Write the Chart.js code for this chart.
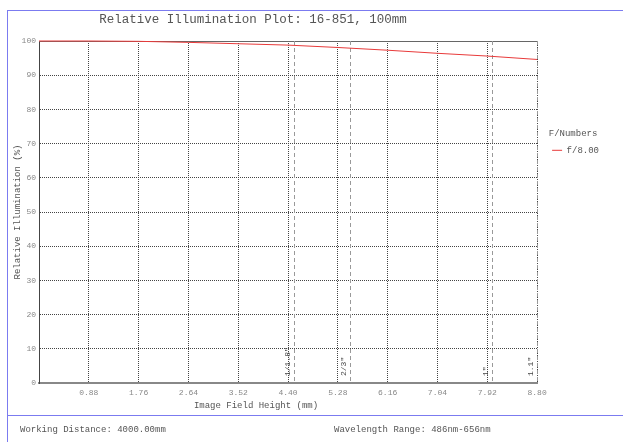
<!DOCTYPE html>
<html>
<head>
<meta charset="utf-8">
<script src="https://cdn.jsdelivr.net/npm/chart.js@4"></script>
<style>
  body { margin: 0; background: #fff; }
  #wrap { position: relative; width: 623px; height: 442px; overflow: hidden; font-family: "Liberation Mono", monospace; color: #555; }
  #frame { position: absolute; left: 7px; top: 10px; width: 640px; height: 440px; border-left: 1px solid #7b7bf0; border-top: 1px solid #7b7bf0; }
  #sep { position: absolute; left: 7px; top: 415px; width: 620px; height: 0; border-top: 1px solid #7b7bf0; }
  .txt { position: absolute; white-space: pre; }
  #title { left: 0; width: 506px; top: 13px; text-align: center; font-size: 12.5px; }
  #xtitle { left: 0; width: 512px; top: 401px; text-align: center; font-size: 9px; }
  #wd { left: 20px; top: 425px; font-size: 9px; }
  #wl { left: 334px; top: 425px; font-size: 9px; }
  canvas { position: absolute; left: 0; top: 0; }
</style>
</head>
<body>
<div id="wrap">
  <canvas id="chart" width="623" height="442"></canvas>
  <div id="frame"></div>
  <div id="sep"></div>
  <div class="txt" id="title">Relative Illumination Plot: 16-851, 100mm</div>
  <div class="txt" id="xtitle">Image Field Height (mm)</div>
  <div class="txt" id="wd">Working Distance: 4000.00mm</div>
  <div class="txt" id="wl">Wavelength Range: 486nm-656nm</div>
</div>
<script>
// Daten
var fieldHeight = [0, 0.88, 1.76, 2.64, 3.52, 4.40, 5.28, 6.16, 7.04, 7.92, 8.80];   // mm
var illumF8 = [100, 100, 99.9, 99.6, 99.2, 98.8, 98.1, 97.3, 96.4, 95.6, 94.6];      // %
var seriesName = "f/8.00";
var sensorHeights = [4.5, 5.5, 8.0, 8.8];             // halbe Sensordiagonale (mm)
var sensorNames = ['1/1.8"', '2/3"', '1"', '1.1"'];

var fontMono = "'Liberation Mono', monospace";

// Sensorlinien + Beschriftung
var sensorPlugin = {
    id: 'sensors',
    beforeDatasetsDraw: function(chart) {
        var ctx = chart.ctx, a = chart.chartArea, xs = chart.scales.x;
        ctx.save();
        // obere Rahmenlinie
        ctx.strokeStyle = '#666';
        ctx.lineWidth = 1;
        ctx.beginPath();
        ctx.moveTo(a.left, a.top + 0.5);
        ctx.lineTo(a.right, a.top + 0.5);
        ctx.stroke();
        ctx.setLineDash([4, 3]);
        ctx.strokeStyle = '#999';
        for (var i = 0; i < sensorHeights.length; i++) {
            var px = Math.round(xs.getPixelForValue(sensorHeights[i])) + 0.5;
            ctx.beginPath();
            ctx.moveTo(px, a.top);
            ctx.lineTo(px, a.bottom);
            ctx.stroke();
        }
        ctx.setLineDash([]);
        ctx.fillStyle = '#444';
        ctx.font = "8px " + fontMono;
        ctx.textAlign = 'left';
        ctx.textBaseline = 'bottom';
        for (var j = 0; j < sensorHeights.length; j++) {
            var p = xs.getPixelForValue(sensorHeights[j]);
            ctx.save();
            ctx.translate(p - 2, a.bottom - 7);
            ctx.rotate(-Math.PI / 2);
            ctx.fillText(sensorNames[j], 0, 0);
            ctx.restore();
        }
        ctx.restore();
    }
};

var chart = new Chart(document.getElementById("chart"), {
    type: 'line',
    data: {
        datasets: [{
            label: seriesName,
            data: fieldHeight.map(function(x, i) { return {x: x, y: illumF8[i]}; }),
            borderColor: '#e83a3a',
            backgroundColor: '#e83a3a',
            borderWidth: 1,
            pointRadius: 0,
            tension: 0,
            clip: 2
        }]
    },
    options: {
        responsive: false,
        animation: false,
        layout: { padding: { left: 8, top: 41, right: 14, bottom: 0 } },
        plugins: {
            tooltip: { enabled: false },
            legend: {
                position: 'right',
                align: 'start',
                title: {
                    display: true,
                    text: 'F/Numbers',
                    position: 'center',
                    color: '#555',
                    font: { family: fontMono, size: 9 },
                    padding: { top: 88, bottom: -9 }
                },
                labels: {
                    color: '#555',
                    font: { family: fontMono, size: 9 },
                    usePointStyle: true,
                    pointStyle: 'line',
                    pointStyleWidth: 10,
                    boxWidth: 10,
                    padding: 15
                }
            }
        },
        scales: {
            x: {
                type: 'linear',
                min: 0,
                max: 8.8,
                afterFit: function(s) { s.height = 59; },
                ticks: {
                    stepSize: 0.88,
                    color: '#888',
                    padding: 5,
                    maxRotation: 0,
                    font: { family: fontMono, size: 8 },
                    callback: function(v) { return v === 0 ? '' : v.toFixed(2); }
                },
                grid: { color: '#444', drawTicks: false },
                border: { color: '#888', width: 2, dash: [1, 1] }
            },
            y: {
                min: 0,
                max: 100,
                afterFit: function(s) { s.width = 31; },
                ticks: {
                    stepSize: 10,
                    color: '#888',
                    padding: 3,
                    font: { family: fontMono, size: 8 }
                },
                grid: { color: '#444', drawTicks: false },
                border: { color: '#444', width: 1, dash: [1, 1] },
                title: {
                    display: true,
                    text: 'Relative Illumination (%)',
                    color: '#555',
                    font: { family: fontMono, size: 9 },
                    padding: { top: 4, bottom: 0 }
                }
            }
        }
    },
    plugins: [sensorPlugin]
});
</script>
</body>
</html>
